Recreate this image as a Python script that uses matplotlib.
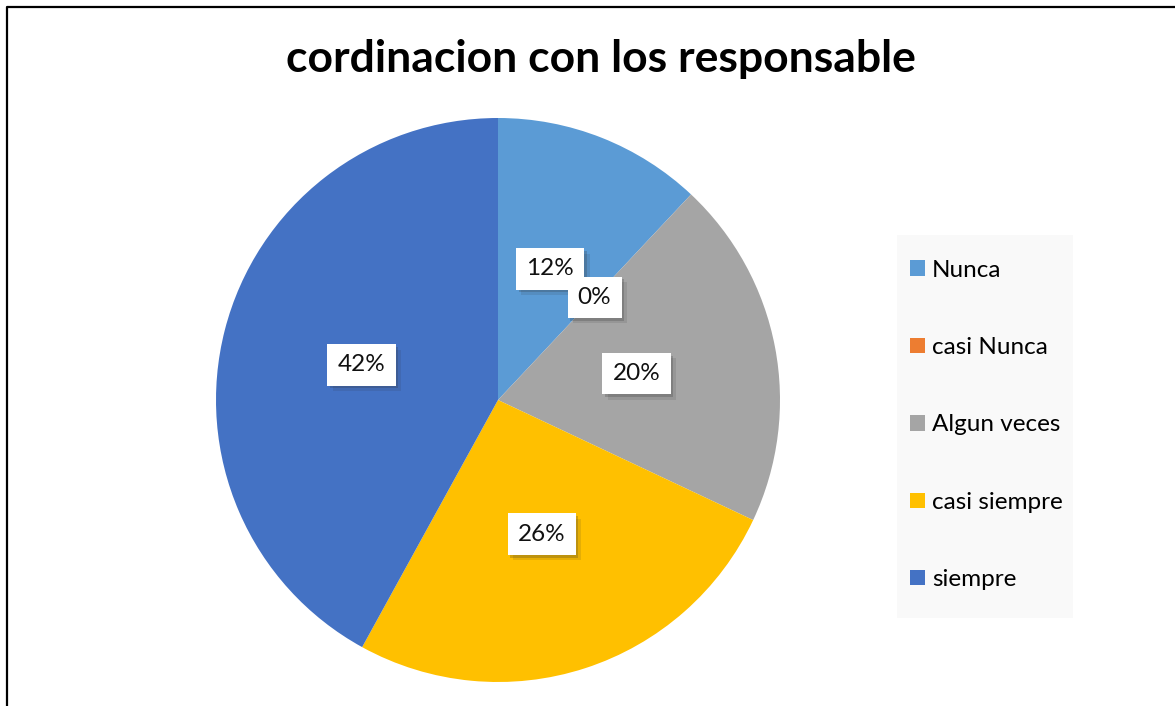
import matplotlib
matplotlib.use("Agg")
import matplotlib.pyplot as plt
import matplotlib.patheffects as pe
from matplotlib.patches import Rectangle, Patch
from matplotlib.lines import Line2D

plt.rcParams['font.family'] = ['Lato', 'DejaVu Sans']

categories = ["Nunca", "casi Nunca", "Algun veces", "casi siempre", "siempre"]
percent = [12, 0, 20, 26, 42]
colors = ["#5B9BD5", "#ED7D31", "#A5A5A5", "#FFC000", "#4472C4"]

fig = plt.figure(figsize=(11.75, 7.06), dpi=100)
W, H = 1175, 706

# pie axes, square, centred at (498, 400) px with radius 282
r = 282
ax = fig.add_axes([(498 - r) / W, (H - 400 - r) / H, 2 * r / W, 2 * r / H])
wedges, texts, autotexts = ax.pie(
    percent, colors=colors, startangle=90, counterclock=False,
    autopct="%d%%", pctdistance=0.5, radius=1.0,
    wedgeprops=dict(linewidth=0),
    textprops=dict(fontsize=17.5, color="#111111"),
)
ax.set_xlim(-1, 1)
ax.set_ylim(-1, 1)
ax.set_aspect("equal")

for t in autotexts:
    t.set_bbox(dict(boxstyle="square,pad=0.42", facecolor="white", edgecolor="none"))
    t.get_bbox_patch().set_path_effects([
        pe.SimplePatchShadow(offset=(4, -4), shadow_rgbFace="#303030", alpha=0.12),
        pe.SimplePatchShadow(offset=(2, -2), shadow_rgbFace="#303030", alpha=0.22),
        pe.Normal(),
    ])

# title
fig.text(601 / W, 1 - 59 / H, "cordinacion con los responsable",
         ha="center", va="center", fontsize=32, fontweight="bold")

# legend background
fig.patches.append(Rectangle((897 / W, 1 - 618 / H), 176 / W, 383 / H,
                             transform=fig.transFigure, facecolor="#f9f9f9",
                             edgecolor="none", zorder=0))
handles = [Patch(facecolor=c, edgecolor="none") for c in colors]
fig.legend(handles, categories, loc="center left",
           bbox_to_anchor=(893 / W, 1 - 425 / H), frameon=False,
           fontsize=17.5, labelspacing=2.32, handlelength=0.6, handleheight=0.6,
           handletextpad=0.3, borderpad=0.2)

# outer frame lines (left and top)
fig.lines.append(Line2D([6.5 / W, 6.5 / W, 1], [0, 1 - 7 / H, 1 - 7 / H],
                        transform=fig.transFigure, color="black", linewidth=1.6))

plt.savefig("out.png", dpi=100)
